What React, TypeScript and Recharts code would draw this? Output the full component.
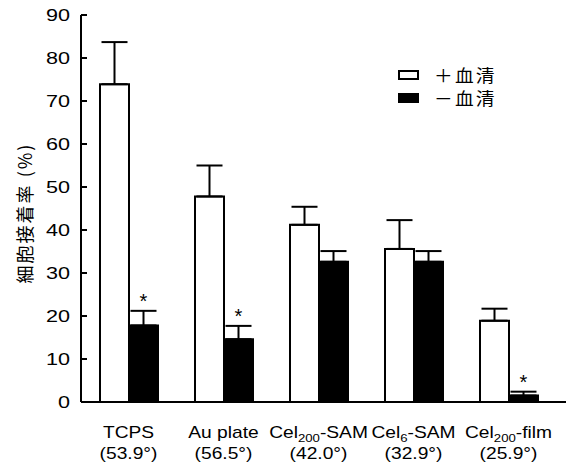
import React from 'react';
import { BarChart, Bar, XAxis, YAxis, ErrorBar, LabelList } from 'recharts';

const categories = ['TCPS', 'Au plate', 'Cel200-SAM', 'Cel6-SAM', 'Cel200-film'];
const contactAngles = ['53.9', '56.5', '42.0', '32.9', '25.9'];
const withSerum = [73.9, 47.8, 41.2, 35.6, 18.9];
const withSerumErr = [9.8, 7.2, 4.2, 6.7, 2.8];
const withoutSerum = [17.8, 14.6, 32.6, 32.6, 1.5];
const withoutSerumErr = [3.4, 3.1, 2.5, 2.5, 0.9];
const significant = [true, true, false, false, true];
const yTicks = [0, 10, 20, 30, 40, 50, 60, 70, 80, 90];
const seriesNames = ['＋血清', '－血清'];
const yLabel = '細胞接着率 (%)';

const data = categories.map((name, i) => ({
  name,
  angle: contactAngles[i],
  plus: withSerum[i],
  plusErr: [0, withSerumErr[i]],
  minus: withoutSerum[i],
  minusErr: [0, withoutSerumErr[i]],
}));

const FONT = '"Liberation Sans", Arial, sans-serif';
const CJK = '"Noto Sans CJK JP", sans-serif';
const SX = 1.2;

const XTick = (props: any) => {
  const { x, y, payload, index } = props;
  const name: string = payload.value;
  const m = name.match(/^(Cel)(\d+)(-.*)$/);
  const angle = contactAngles[index];
  return (
    <g transform={`translate(${x},${y}) scale(${SX},1)`}>
      <text x={0} y={28} textAnchor="middle" fontSize={16} fontFamily={FONT} fill="#000">
        {m ? (
          <>
            <tspan>{m[1]}</tspan>
            <tspan fontSize={11} dy={4}>{m[2]}</tspan>
            <tspan dy={-4}>{m[3]}</tspan>
          </>
        ) : (
          name
        )}
      </text>
      <text x={0} y={49} textAnchor="middle" fontSize={16} fontFamily={FONT} fill="#000">
        {`(${angle}°)`}
      </text>
    </g>
  );
};

const YTick = (props: any) => {
  const { x, y, payload } = props;
  return (
    <g transform={`translate(${x},${y}) scale(1.35,1)`}>
      <text x={0} y={0} dy="0.355em" textAnchor="end" fontSize={16} fontFamily={FONT} fill="#000">
        {payload.value}
      </text>
    </g>
  );
};

const Star = (p: any) => {
  const { x, y, width, height, value, index } = p;
  if (!significant[index]) return null;
  const err = withoutSerumErr[index];
  const top = y - (err * height) / value;
  return (
    <text x={x + width / 2} y={top - 3} textAnchor="middle" fontSize={20} fontFamily={FONT} fill="#000">
      *
    </text>
  );
};

const LegendBox = () => (
  <div style={{ position: 'absolute', left: 398, top: 63, fontFamily: CJK, fontSize: 17, color: '#000' }}>
    {seriesNames.map((n, i) => (
      <div key={n} style={{ display: 'flex', alignItems: 'center', height: 23 }}>
        <div
          style={{
            width: 17,
            height: 6,
            border: '2px solid #000',
            background: i === 0 ? '#fff' : '#000',
            marginRight: 15,
          }}
        />
        <span style={{ letterSpacing: 2, display: 'inline-block', transform: 'scale(1.1,1)', transformOrigin: 'left center', whiteSpace: 'nowrap', lineHeight: '23px' }}>{n}</span>
      </div>
    ))}
  </div>
);

export default function App() {
  return (
    <div style={{ position: 'absolute', left: 0, top: 0, width: 568, height: 468, background: '#fff' }}>
      <BarChart
        width={568}
        height={468}
        data={data}
        margin={{ top: 15, right: 2, bottom: 0, left: 0 }}
        barGap={0}
      >
        <XAxis
          dataKey="name"
          height={66}
          padding={{ left: 0, right: 10 }}
          tickLine={false}
          axisLine={{ stroke: '#000', strokeWidth: 2 }}
          tick={<XTick />}
          interval={0}
        />
        <XAxis
          xAxisId="top"
          dataKey="name"
          orientation="top"
          height={0}
          tick={false}
          tickLine={false}
          axisLine={{ stroke: '#000', strokeWidth: 2 }}
        />
        <YAxis
          width={81}
          domain={[0, 90]}
          ticks={yTicks}
          interval={0}
          tickSize={-6}
          tickMargin={17}
          tickLine={{ stroke: '#000', strokeWidth: 2 }}
          axisLine={{ stroke: '#000', strokeWidth: 2 }}
          tick={<YTick />}
          label={{
            content: () => (
              <text
                transform="translate(24,213) rotate(-90)"
                textAnchor="middle"
                dominantBaseline="central"
                fontSize={18}
                fontFamily={CJK}
                letterSpacing={2}
                fill="#000"
              >
                {yLabel}
              </text>
            ),
          }}
        />
        <YAxis
          yAxisId="right"
          orientation="right"
          width={0}
          domain={[0, 90]}
          tick={false}
          tickLine={false}
          axisLine={{ stroke: '#000', strokeWidth: 2 }}
        />
        <Bar dataKey="plus" name={seriesNames[0]} fill="#fff" stroke="#000" strokeWidth={2} barSize={29} isAnimationActive={false}>
          <ErrorBar dataKey="plusErr" direction="y" width={13} stroke="#000" strokeWidth={2} />
        </Bar>
        <Bar dataKey="minus" name={seriesNames[1]} fill="#000" stroke="#000" strokeWidth={2} barSize={29} isAnimationActive={false}>
          <ErrorBar dataKey="minusErr" direction="y" width={13} stroke="#000" strokeWidth={2} />
          <LabelList dataKey="minus" content={<Star />} />
        </Bar>
      </BarChart>
      <LegendBox />
    </div>
  );
}
